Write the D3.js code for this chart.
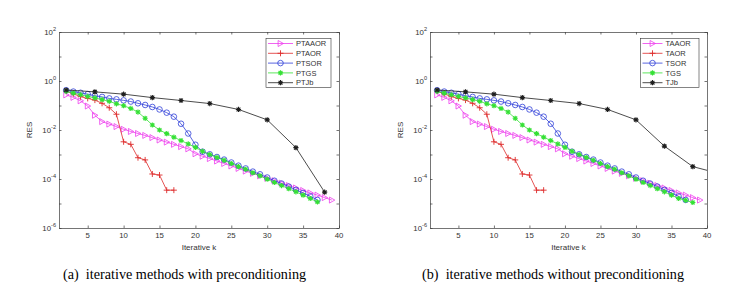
<!DOCTYPE html>
<html>
<head>
<meta charset="utf-8">
<script src="https://cdn.jsdelivr.net/npm/d3@7"></script>
<style>
  body { margin: 0; background: #fff; }
  svg { display: block; }
</style>
</head>
<body>
<div id="fig"></div>
<script>
// x ticks / y ticks (decades)
const xTicks = [5, 10, 15, 20, 25, 30, 35, 40]
const yDecades = [-6, -5, -4, -3, -2, -1, 0, 1, 2]
const yLabelDecades = [-6, -4, -2, 0, 2]

// ---- panel (a) with preconditioning, residuals
const ptaaorStart = 2
const ptaaor = [0.27, 0.214, 0.155, 9.5e-2, 4.0e-2, 2.2e-2, 1.74e-2, 1.38e-2, 1.07e-2,
  8.7e-3, 7.2e-3, 6.0e-3, 4.9e-3, 3.9e-3, 3.2e-3, 2.6e-3, 2.1e-3, 1.7e-3, 1.07e-3,
  8.5e-4, 6.8e-4, 5.4e-4, 4.3e-4, 3.4e-4, 2.7e-4, 2.1e-4, 1.7e-4, 1.35e-4, 1.07e-4,
  8.5e-5, 6.8e-5, 5.4e-5, 4.3e-5, 3.4e-5, 2.7e-5, 2.2e-5, 1.74e-5, 1.38e-5]
const ptaorStart = 2
const ptaor = [0.38, 0.30, 0.23, 0.195, 0.166, 0.123, 8.1e-2, 4.4e-2, 3.3e-3, 2.6e-3,
  7.4e-4, 6.0e-4, 1.6e-4, 1.45e-4, 3.5e-5, 3.5e-5]
const ptsorStart = 2
const ptsor = [0.42, 0.37, 0.33, 0.29, 0.25, 0.224, 0.195, 0.178, 0.162,
  0.145, 0.123, 0.105, 8.7e-2, 6.9e-2, 5.1e-2, 3.5e-2, 1.8e-2, 7.2e-3, 2.5e-3,
  1.3e-3, 1.02e-3, 7.9e-4, 6.2e-4, 4.7e-4, 3.5e-4, 2.7e-4, 2.0e-4, 1.55e-4, 1.15e-4,
  8.5e-5, 6.5e-5, 4.9e-5, 3.6e-5, 2.7e-5, 1.95e-5, 1.4e-5]
const ptgsStart = 2
const ptgs = [0.38, 0.32, 0.275, 0.234, 0.204, 0.174, 0.148, 0.117, 9.8e-2,
  7.6e-2, 5.4e-2, 3.0e-2, 1.6e-2, 1.0e-2, 7.1e-3, 5.1e-3, 3.7e-3, 2.7e-3, 1.95e-3,
  1.35e-3, 1.0e-3, 7.6e-4, 5.8e-4, 4.3e-4, 3.2e-4, 2.5e-4, 1.8e-4, 1.35e-4, 9.8e-5,
  7.2e-5, 5.4e-5, 4.0e-5, 3.0e-5, 2.2e-5, 1.6e-5, 1.15e-5]
const ptjbK = [2, 6, 10, 14, 18, 22, 26, 30, 34, 38]
const ptjb = [0.43, 0.36, 0.29, 0.21, 0.16, 0.12, 6.9e-2, 2.6e-2, 1.9e-3, 2.9e-5]

// ---- panel (b) without preconditioning
const taaorStart = 2
const taaor = [0.27, 0.214, 0.155, 9.5e-2, 4.0e-2, 2.2e-2, 1.74e-2, 1.38e-2, 1.07e-2,
  8.7e-3, 7.2e-3, 6.0e-3, 4.9e-3, 3.9e-3, 3.2e-3, 2.6e-3, 2.1e-3, 1.7e-3, 1.07e-3,
  8.5e-4, 6.8e-4, 5.4e-4, 4.3e-4, 3.4e-4, 2.7e-4, 2.1e-4, 1.7e-4, 1.35e-4, 1.07e-4,
  8.5e-5, 6.8e-5, 5.4e-5, 4.3e-5, 3.4e-5, 2.7e-5, 2.2e-5, 1.74e-5, 1.38e-5]
const taorStart = 2
const taor = [0.38, 0.30, 0.23, 0.195, 0.166, 0.123, 8.1e-2, 4.4e-2, 3.3e-3, 2.6e-3,
  7.4e-4, 6.0e-4, 1.6e-4, 1.45e-4, 3.5e-5, 3.5e-5]
const tsorStart = 2
const tsor = [0.42, 0.37, 0.33, 0.29, 0.25, 0.224, 0.195, 0.178, 0.162,
  0.145, 0.123, 0.105, 8.7e-2, 6.9e-2, 5.1e-2, 3.5e-2, 1.8e-2, 7.2e-3, 2.5e-3,
  1.3e-3, 1.02e-3, 7.9e-4, 6.2e-4, 4.7e-4, 3.5e-4, 2.7e-4, 2.0e-4, 1.55e-4, 1.15e-4,
  8.5e-5, 6.5e-5, 4.9e-5, 3.6e-5, 2.7e-5, 1.95e-5, 1.4e-5]
const tgsStart = 2
const tgs = [0.38, 0.32, 0.275, 0.234, 0.204, 0.174, 0.148, 0.117, 9.8e-2,
  7.6e-2, 5.4e-2, 3.0e-2, 1.6e-2, 1.0e-2, 7.1e-3, 5.1e-3, 3.7e-3, 2.7e-3, 1.95e-3,
  1.35e-3, 1.0e-3, 7.6e-4, 5.8e-4, 4.3e-4, 3.2e-4, 2.5e-4, 1.8e-4, 1.35e-4, 9.8e-5,
  7.2e-5, 5.4e-5, 4.0e-5, 3.0e-5, 2.2e-5, 1.6e-5, 1.35e-5, 1.1e-5]
const tjbK = [2, 6, 10, 14, 18, 22, 26, 30, 34, 38, 42]
const tjb = [0.43, 0.36, 0.29, 0.21, 0.16, 0.12, 6.9e-2, 2.6e-2, 2.2e-3, 3.2e-4, 1.6e-4]

const namesA = ["PTAAOR", "PTAOR", "PTSOR", "PTGS", "PTJb"]
const namesB = ["TAAOR", "TAOR", "TSOR", "TGS", "TJb"]
const colors = ["#ee3cee", "#de2a2a", "#2f3fd8", "#35e035", "#1e1e1e"]
const markers = ["tri", "plus", "circle", "star", "star"]

const W = 744, H = 290
const svg = d3.select("#fig").append("svg")
  .attr("width", W)
  .attr("height", H)
  .style("font-family", "'Liberation Sans', Arial, sans-serif")

function seq(start, vals) {
  return vals.map((v, i) => ({ k: start + i, v: v }))
}
function pairs(ks, vals) {
  return vals.map((v, i) => ({ k: ks[i], v: v }))
}

// marker drawing
function drawMarker(g, type, color) {
  if (type == "tri") {
    g.append("path").attr("d", "M-2.4,-3 L3,0 L-2.4,3 Z")
      .attr("fill", "none").attr("stroke", color).attr("stroke-width", 0.8)
  } else if (type == "circle") {
    g.append("circle").attr("r", 2.8)
      .attr("fill", "none").attr("stroke", color).attr("stroke-width", 0.8)
  } else if (type == "plus") {
    g.append("path").attr("d", "M-3,0 L3,0 M0,-3 L0,3")
      .attr("stroke", color).attr("stroke-width", 0.9)
  } else {
    g.append("path").attr("d", "M-2.6,0 L2.6,0 M0,-2.6 L0,2.6 M-1.9,-1.9 L1.9,1.9 M-1.9,1.9 L1.9,-1.9")
      .attr("stroke", color).attr("stroke-width", 1.1)
  }
}

function panel(opt) {
  const x = d3.scaleLinear().domain([1, 40]).range([opt.left, opt.right])
  const y = d3.scaleLog().domain([1e-6, 1e2]).range([228, 32])
  const g = svg.append("g")

  const clipId = "clip" + opt.id
  g.append("clipPath").attr("id", clipId)
    .append("rect")
    .attr("x", opt.left).attr("y", 32)
    .attr("width", opt.right - opt.left).attr("height", 196)

  // axes with inward ticks on all four sides
  const yTickVals = yDecades.map(d => Math.pow(10, d))
  g.append("g").attr("transform", "translate(0,228)")
    .call(d3.axisBottom(x).tickValues(xTicks).tickSize(-2.5).tickSizeOuter(0).tickFormat(""))
  g.append("g").attr("transform", "translate(0,32)")
    .call(d3.axisTop(x).tickValues(xTicks).tickSize(-2.5).tickSizeOuter(0).tickFormat(""))
  g.append("g").attr("transform", "translate(" + opt.left + ",0)")
    .call(d3.axisLeft(y).tickValues(yTickVals).tickSize(-2.5).tickSizeOuter(0).tickFormat(""))
  g.append("g").attr("transform", "translate(" + opt.right + ",0)")
    .call(d3.axisRight(y).tickValues(yTickVals).tickSize(-2.5).tickSizeOuter(0).tickFormat(""))
  g.selectAll(".domain, .tick line").attr("stroke", "#3a3a3a").attr("stroke-width", 0.7)

  // tick labels
  g.selectAll(".xlab").data(xTicks).enter().append("text")
    .attr("x", d => x(d)).attr("y", 238)
    .attr("text-anchor", "middle")
    .style("font-size", "7.8px").attr("fill", "#333")
    .text(d => d)
  yLabelDecades.forEach(function (d) {
    let t = g.append("text")
      .attr("x", opt.left - 3).attr("y", y(Math.pow(10, d)) + 2.8)
      .attr("text-anchor", "end")
      .style("font-size", "7.8px").attr("fill", "#333")
    t.append("tspan").text("10")
    t.append("tspan").attr("dy", -4).style("font-size", "5.6px").text(d)
  })

  // axis titles
  g.append("text")
    .attr("transform", "translate(" + (opt.left - 27) + ",130) rotate(-90)")
    .attr("text-anchor", "middle")
    .style("font-size", "8px").attr("fill", "#333")
    .text("RES")
  g.append("text")
    .attr("x", (opt.left + opt.right) / 2).attr("y", 250)
    .attr("text-anchor", "middle")
    .style("font-size", "8px").attr("fill", "#333")
    .text("Iterative k")

  // series lines + markers
  const line = d3.line().x(d => x(d.k)).y(d => y(d.v))
  opt.series.forEach(function (s, i) {
    let sg = g.append("g").attr("clip-path", "url(#" + clipId + ")")
    sg.append("path").datum(s)
      .attr("d", line)
      .attr("fill", "none")
      .attr("stroke", colors[i])
      .attr("stroke-width", 0.8)
    s.forEach(function (d) {
      let m = sg.append("g").attr("transform", "translate(" + x(d.k) + "," + y(d.v) + ")")
      drawMarker(m, markers[i], colors[i])
    })
  })

  // legend
  const lg = g.append("g")
  lg.append("rect")
    .attr("x", opt.legX).attr("y", 38.5)
    .attr("width", opt.legW).attr("height", 49)
    .attr("fill", "#fff").attr("stroke", "#333").attr("stroke-width", 0.6)
  opt.names.forEach(function (n, i) {
    let yy = 43.5 + i * 9.8
    lg.append("line")
      .attr("x1", opt.legX + 2).attr("x2", opt.legX + 2 + opt.legLine)
      .attr("y1", yy).attr("y2", yy)
      .attr("stroke", colors[i]).attr("stroke-width", 0.8)
    let m = lg.append("g").attr("transform", "translate(" + (opt.legX + 2 + opt.legLine / 2) + "," + yy + ")")
    drawMarker(m, markers[i], colors[i])
    lg.append("text")
      .attr("x", opt.legX + opt.legLine + 5).attr("y", yy + 2.7)
      .style("font-size", "7.5px").attr("fill", "#333")
      .text(n)
  })

  // caption
  svg.append("text")
    .attr("x", opt.capX).attr("y", 278.5)
    .style("font-family", "'Liberation Serif', 'Times New Roman', serif")
    .style("font-size", "14.2px").attr("fill", "#000")
    .attr("xml:space", "preserve")
    .text(opt.caption)
}

panel({
  id: "a", left: 59, right: 339,
  legX: 266, legW: 65, legLine: 25,
  names: namesA,
  series: [seq(ptaaorStart, ptaaor), seq(ptaorStart, ptaor), seq(ptsorStart, ptsor),
    seq(ptgsStart, ptgs), pairs(ptjbK, ptjb)],
  capX: 63, caption: "(a)  iterative methods with preconditioning"
})

panel({
  id: "b", left: 430, right: 707,
  legX: 640.5, legW: 58.5, legLine: 20,
  names: namesB,
  series: [seq(taaorStart, taaor), seq(taorStart, taor), seq(tsorStart, tsor),
    seq(tgsStart, tgs), pairs(tjbK, tjb)],
  capX: 422, caption: "(b)  iterative methods without preconditioning"
})
</script>
</body>
</html>
